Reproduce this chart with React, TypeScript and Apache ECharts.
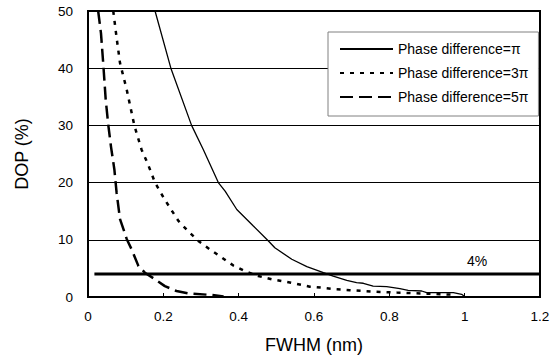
import React, { useEffect, useRef } from "react";
import * as echarts from "echarts";

const seriesNames = ["Phase difference=π", "Phase difference=3π", "Phase difference=5π"];

const fwhmPi = [0.178, 0.22, 0.275, 0.306, 0.346, 0.364, 0.395, 0.439, 0.479, 0.496, 0.541, 0.581, 0.625, 0.651, 0.687, 0.713, 0.731, 0.757, 0.793, 0.828, 0.85, 0.886, 0.899, 0.97, 0.992, 1.0];
const dopPi = [50, 40, 30, 25.8, 20.0, 18.5, 15.3, 12.4, 9.8, 8.6, 6.6, 5.3, 4.25, 3.66, 2.9, 2.5, 2.4, 1.9, 1.8, 1.46, 1.17, 1.05, 0.77, 0.77, 0.47, 0.1];

const fwhm3Pi = [0.067, 0.076, 0.085, 0.103, 0.123, 0.142, 0.158, 0.178, 0.204, 0.24, 0.266, 0.293, 0.324, 0.355, 0.386, 0.417, 0.452, 0.488, 0.523, 0.554, 0.589, 0.625, 0.66, 0.695, 0.76, 0.82, 0.89, 0.97];
const dop3Pi = [50, 45.3, 40.9, 36.2, 30, 25.8, 23.4, 20.0, 17.0, 13.3, 11.5, 9.8, 8.3, 6.9, 5.5, 4.5, 3.66, 3.1, 2.7, 2.3, 1.8, 1.6, 1.34, 1.2, 0.94, 0.77, 0.6, 0.4];

const fwhm5Pi = [0.027, 0.0345, 0.041, 0.047, 0.054, 0.061, 0.07, 0.076, 0.085, 0.096, 0.103, 0.116, 0.134, 0.151, 0.178, 0.204, 0.235, 0.266, 0.328, 0.36];
const dop5Pi = [50, 46.1, 40.3, 34.5, 30, 26.3, 22.3, 18.2, 13.6, 11.5, 10.1, 8.3, 5.4, 4.25, 3.1, 1.9, 1.05, 0.65, 0.35, 0.1];

const thresholdX = [0.017, 1.2];
const thresholdY = [4, 4];
const thresholdLabelPos = [1.033, 4];
const thresholdLabel = "4%";

const xTicks = { min: 0, max: 1.2, interval: 0.2 };
const yTicks = { min: 0, max: 50, interval: 10 };

const FONT = "Liberation Sans, Arial, sans-serif";

function pairs(xs: number[], ys: number[]) {
  return xs.map((x, i) => [x, ys[i]]);
}

export default function App() {
  const ref = useRef<HTMLDivElement>(null);
  useEffect(() => {
    if (!ref.current) return;
    const chart = echarts.init(ref.current, null, { renderer: "svg" });
    chart.setOption({
      animation: false,
      backgroundColor: "#fff",
      textStyle: { fontFamily: FONT },
      grid: {
        left: 88,
        right: 17,
        top: 11,
        bottom: 61,
        show: true,
        borderColor: "#000",
        borderWidth: 2,
        backgroundColor: "transparent",
      },
      legend: {
        data: seriesNames,
        orient: "vertical",
        left: 328,
        top: 32,
        padding: [10, 10, 12, 11],
        itemWidth: 53,
        itemHeight: 14,
        itemGap: 10,
        backgroundColor: "#fff",
        borderColor: "#808080",
        borderWidth: 1,
        borderRadius: 0,
        itemStyle: { opacity: 0 },
        textStyle: { fontFamily: FONT, fontSize: 14, color: "#000" },
        selectedMode: false,
      },
      xAxis: {
        type: "value",
        min: xTicks.min,
        max: xTicks.max,
        interval: xTicks.interval,
        name: "FWHM (nm)",
        nameLocation: "middle",
        nameGap: 39,
        nameTextStyle: { fontFamily: FONT, fontSize: 18, color: "#000" },
        axisLine: { show: true, lineStyle: { color: "#000", width: 2 } },
        axisTick: { show: true, inside: true, length: 4, lineStyle: { color: "#000", width: 1 } },
        axisLabel: { fontFamily: FONT, fontSize: 13.5, color: "#000", margin: 12 },
        splitLine: { show: false },
      },
      yAxis: {
        type: "value",
        min: yTicks.min,
        max: yTicks.max,
        interval: yTicks.interval,
        name: "DOP (%)",
        nameLocation: "middle",
        nameGap: 57,
        nameTextStyle: { fontFamily: FONT, fontSize: 18, color: "#000" },
        axisLine: { show: true, lineStyle: { color: "#000", width: 2 } },
        axisTick: { show: false },
        axisLabel: { fontFamily: FONT, fontSize: 13.5, color: "#000", margin: 15 },
        splitLine: { show: true, lineStyle: { color: "#000", width: 1 } },
      },
      series: [
        {
          name: seriesNames[0],
          type: "line",
          symbol: "none",
          data: pairs(fwhmPi, dopPi),
          lineStyle: { color: "#000", width: 1.3, type: "solid" },
          itemStyle: { color: "#000" },
        },
        {
          name: seriesNames[1],
          type: "line",
          symbol: "none",
          data: pairs(fwhm3Pi, dop3Pi),
          lineStyle: { color: "#000", width: 2.5, type: [4, 6] },
          itemStyle: { color: "#000" },
        },
        {
          name: seriesNames[2],
          type: "line",
          symbol: "none",
          data: pairs(fwhm5Pi, dop5Pi),
          lineStyle: { color: "#000", width: 2.5, type: [13, 6] },
          itemStyle: { color: "#000" },
        },
        {
          name: "threshold",
          type: "line",
          symbol: "none",
          data: pairs(thresholdX, thresholdY),
          lineStyle: { color: "#000", width: 3 },
          itemStyle: { color: "#000" },
          z: 3,
        },
        {
          name: "thresholdLabel",
          type: "scatter",
          symbolSize: 0,
          data: [thresholdLabelPos],
          itemStyle: { color: "rgba(0,0,0,0)", opacity: 1 },
          label: {
            show: true,
            position: "top",
            distance: 6,
            formatter: thresholdLabel,
            fontFamily: FONT,
            fontSize: 14,
            color: "#000",
            opacity: 1,
          },
          silent: true,
          z: 4,
        },
      ],
    });
    return () => chart.dispose();
  }, []);
  return (
    <div
      ref={ref}
      style={{ position: "fixed", left: 0, top: 0, width: 557, height: 359 }}
    />
  );
}
